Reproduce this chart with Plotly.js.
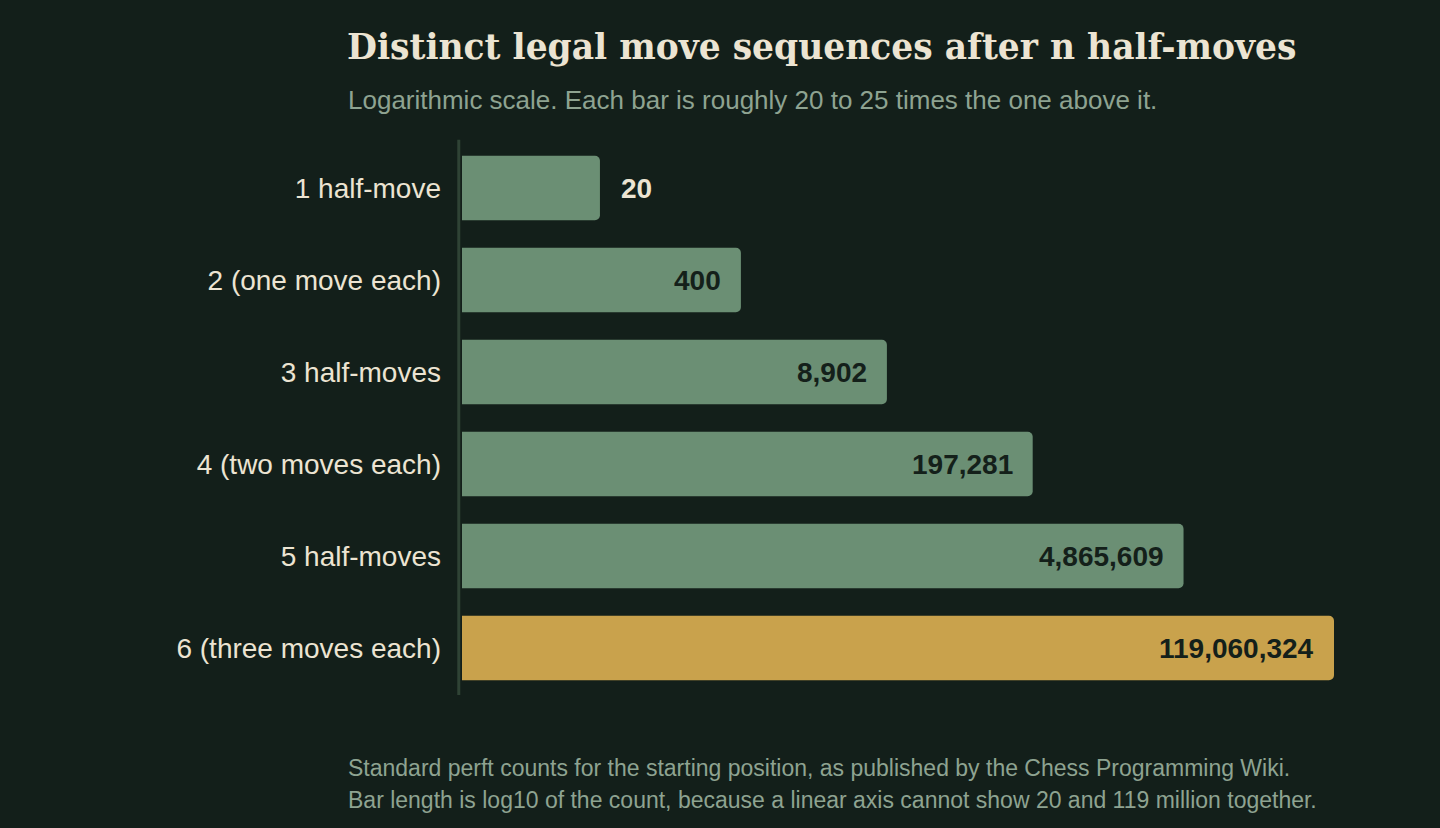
<!DOCTYPE html>
<html>
<head>
<meta charset="utf-8">
<script src="https://cdn.plot.ly/plotly-3.0.1.min.js"></script>
<style>
  html, body { margin: 0; padding: 0; background: #131f1a; }
  #chart { width: 1440px; height: 828px; }
</style>
</head>
<body>
<div id="chart"></div>
<script>
// Data

const categories = [
  "1 half-move",
  "2 (one move each)",
  "3 half-moves",
  "4 (two moves each)",
  "5 half-moves",
  "6 (three moves each)",
];
const counts = [20, 400, 8902, 197281, 4865609, 119060324];

const footerLines = [
  "Standard perft counts for the starting position, as published by the Chess Programming Wiki.",
  "Bar length is log10 of the count, because a linear axis cannot show 20 and 119 million together.",
];

// Colours

const bg = "#131f1a";
const green = "#6b8f74";
const gold = "#c9a24c";
const cream = "#ece4d2";
const muted = "#8ea391";
const dark = "#14201a";
const sans = "Liberation Sans, Arial, sans-serif";

// Bar length is log10 of the count
const logCounts = counts.map((c) => Math.log10(c));
const barColors = counts.map((c, i) => (i === counts.length - 1 ? gold : green));

const data = [
  {
    type: "bar",
    orientation: "h",
    x: logCounts,
    y: categories,
    marker: { color: barColors, cornerradius: 5 },
    hoverinfo: "skip",
  },
];

// Value labels: inside the bar end, except the short first bar
const valueLabels = counts.map((c, i) => {
  const outside = i === 0;
  return {
    x: logCounts[i],
    y: categories[i],
    xref: "x",
    yref: "y",
    text: c.toLocaleString("en-US"),
    showarrow: false,
    xanchor: outside ? "left" : "right",
    xshift: outside ? 19 : -18,
    font: { family: sans, size: 28, color: outside ? cream : dark, weight: "bold" },
  };
});

// Subtitle and footer, placed relative to the plot area
const noteX = -0.1262;
const textNotes = [
  {
    text: "Logarithmic scale. Each bar is roughly 20 to 25 times the one above it.",
    xref: "paper",
    yref: "paper",
    x: noteX,
    y: 1.076,
    xanchor: "left",
    yanchor: "middle",
    showarrow: false,
    font: { family: sans, size: 26, color: muted },
  },
].concat(
  footerLines.map((line, i) => ({
    text: line,
    xref: "paper",
    yref: "paper",
    x: noteX,
    y: -0.134 - i * 0.058,
    xanchor: "left",
    yanchor: "middle",
    showarrow: false,
    font: { family: sans, size: 23, color: muted },
  }))
);

const layout = {
  width: 1440,
  height: 828,
  paper_bgcolor: bg,
  plot_bgcolor: bg,
  margin: { l: 462, r: 57, t: 142, b: 134 },
  title: {
    text: "<b>Distinct legal move sequences after n half-moves</b>",
    x: 347 / 1440,
    xanchor: "left",
    xref: "container",
    y: 1 - 47 / 828,
    yref: "container",
    yanchor: "middle",
    font: { family: "DejaVu Serif, Georgia, serif", size: 34.5, color: cream },
  },
  showlegend: false,
  bargap: 0.3,
  xaxis: {
    range: [0.028, 8.528],
    visible: false,
    fixedrange: true,
  },
  yaxis: {
    autorange: "reversed",
    showgrid: false,
    zeroline: false,
    showline: false,
    ticks: "",
    ticklabelstandoff: 20,
    tickfont: { family: sans, size: 28, color: cream },
    fixedrange: true,
  },
  shapes: [
    {
      type: "line",
      xref: "paper",
      yref: "paper",
      x0: -0.0035,
      x1: -0.0035,
      y0: -0.002,
      y1: 1.004,
      line: { color: "#2f4335", width: 3 },
    },
  ],
  annotations: valueLabels.concat(textNotes),
};

Plotly.newPlot("chart", data, layout, { displayModeBar: false, staticPlot: true });
</script>
</body>
</html>
